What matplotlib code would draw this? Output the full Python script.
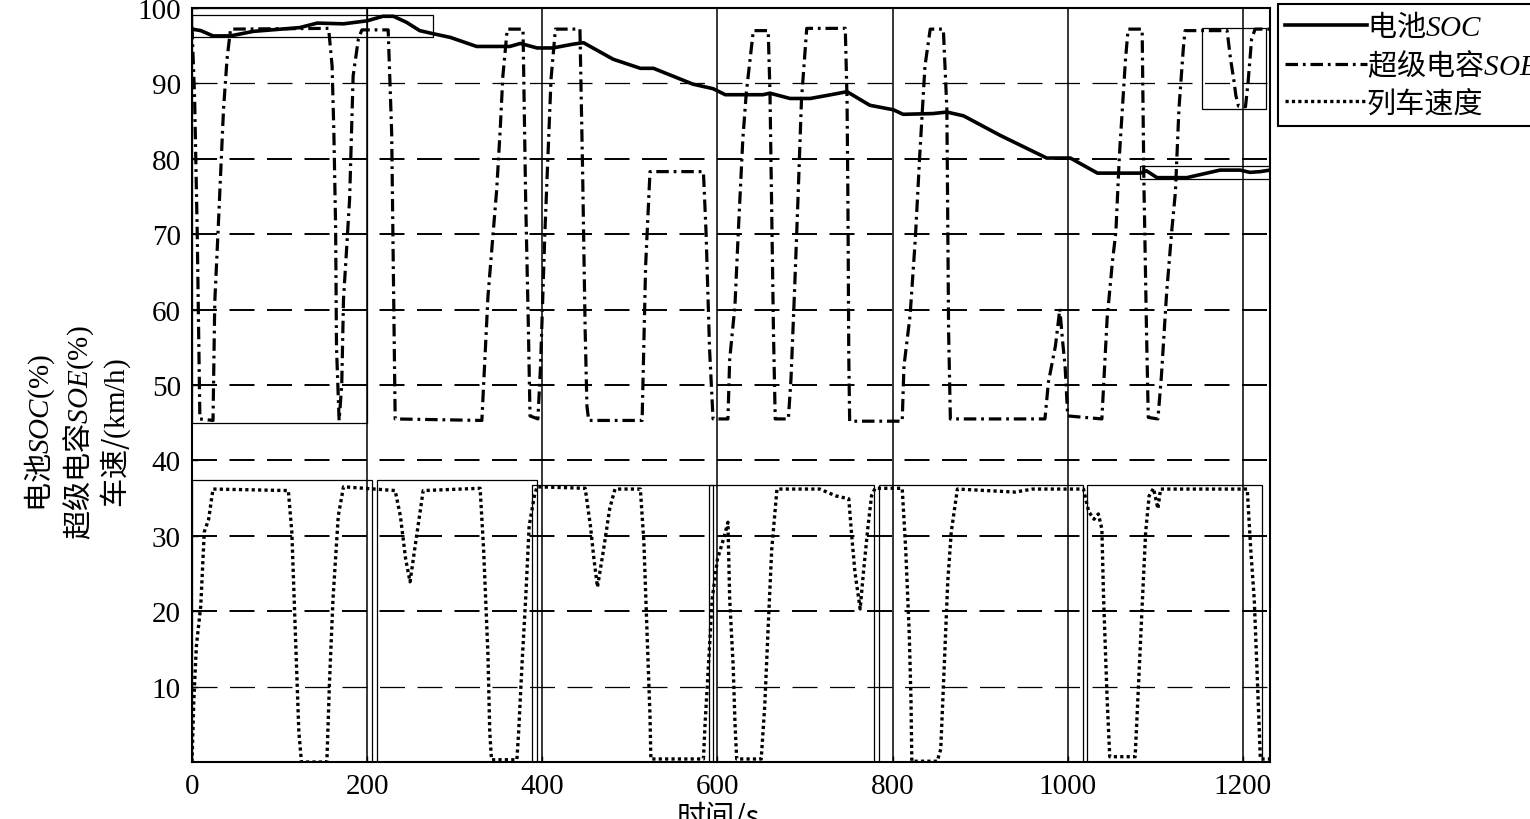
import numpy as np
import matplotlib
matplotlib.use('Agg')
import matplotlib.pyplot as plt
from matplotlib.patches import Rectangle

plt.rcParams['font.family'] = ['Liberation Serif', 'Noto Sans CJK SC', 'DejaVu Sans']
plt.rcParams['mathtext.fontset'] = 'custom'
plt.rcParams['mathtext.rm'] = 'Liberation Serif'
plt.rcParams['mathtext.it'] = 'Liberation Serif:italic'
plt.rcParams['lines.scale_dashes'] = False

CJK = 'Noto Sans CJK SC'

# battery SOC (%)
t_bat = [0, 10, 24, 44, 70, 123, 143, 173, 200, 218, 230, 245, 260, 275, 295,
         325, 363, 375, 394, 412, 435, 447, 481, 512, 527, 572, 595, 609, 652,
         660, 683, 706, 725, 748, 774, 801, 812, 846, 862, 881, 923, 976, 1003,
         1034, 1083, 1090, 1102, 1136, 1174, 1197, 1208, 1220, 1231]
soc_bat = [97.2, 97.0, 96.3, 96.3, 96.9, 97.4, 98.0, 97.9, 98.3, 98.9, 98.9, 98.1,
           97.0, 96.6, 96.1, 94.9, 94.9, 95.3, 94.7, 94.7, 95.2, 95.4, 93.2, 92.0,
           92.0, 89.9, 89.3, 88.5, 88.5, 88.7, 88.0, 88.0, 88.4, 88.9, 87.1, 86.5,
           85.9, 86.0, 86.2, 85.7, 83.1, 80.1, 80.1, 78.1, 78.1, 78.4, 77.5, 77.5,
           78.5, 78.5, 78.2, 78.3, 78.5]

# supercapacitor SOE (%)
t_cap = [0, 3, 6, 9, 24, 26, 30, 36, 40, 44, 156, 160, 162, 164, 165, 168, 171,
         173, 176, 180, 184, 190, 194, 224, 228, 232, 331, 338, 348, 352, 355, 360,
         378, 381, 384, 386, 395, 398, 403, 410, 415, 443, 446, 449, 451, 453, 514,
         518, 523, 584, 587, 591, 595, 612, 614, 620, 624, 629, 633, 641, 658, 660,
         664, 666, 681, 684, 688, 692, 696, 702, 746, 748, 749, 750, 751, 811, 813,
         820, 826, 831, 837, 843, 858, 862, 864, 866, 974, 978, 986, 991, 994, 997,
         1000, 1039, 1041, 1045, 1051, 1055, 1059, 1066, 1069, 1085, 1087, 1090,
         1092, 1103, 1107, 1113, 1119, 1123, 1127, 1132, 1134, 1182, 1186, 1190,
         1192, 1195, 1203, 1206, 1210, 1214, 1231]
soe_cap = [97.5, 88, 70, 45.5, 45.3, 61, 71, 86.6, 93.2, 97.2, 97.3, 92.3, 83.5,
           71, 55, 45.3, 50, 61.4, 67, 74.7, 91, 95.9, 97.1, 97.1, 83.5, 45.5, 45.3,
           61.8, 76, 84, 91, 97.2, 97.2, 74.7, 58.3, 45.9, 45.5, 52.5, 70.3, 90.6,
           97.2, 97.2, 78.6, 57, 47.2, 45.3, 45.3, 65.8, 78.3, 78.3, 70.3, 54.8,
           45.5, 45.5, 53.4, 60.5, 70.7, 82.6, 88.8, 97, 97, 88.8, 57, 45.5, 45.5,
           50.8, 62.3, 74.7, 87.9, 97.3, 97.3, 87.9, 74.7, 53.8, 45.2, 45.2, 52.5,
           59.2, 69.4, 80.4, 92.3, 97.2, 97.2, 86.6, 57, 45.5, 45.5, 50.4, 55.2,
           60.1, 56, 52.5, 45.9, 45.5, 49.9, 58.8, 66.3, 70.3, 80.4, 93.2, 97.2,
           97.2, 76.9, 57, 45.7, 45.5, 51.2, 62.3, 70.7, 75.6, 86.6, 94.6, 97, 97,
           93.2, 90.2, 88.4, 87, 86.9, 90.2, 95.9, 97.2, 97.2]

# train speed (km/h)
t_spd = [0, 2, 5, 10, 14, 19, 24, 110, 114, 118, 122, 125, 154, 157, 161, 167,
         173, 232, 238, 244, 249, 256, 264, 329, 333, 338, 340, 342, 371, 373, 377,
         381, 385, 391, 394, 449, 455, 459, 463, 470, 477, 483, 512, 516, 520, 523,
         524, 584, 586, 590, 594, 600, 607, 612, 614, 618, 620, 622, 650, 654, 658,
         662, 668, 717, 735, 750, 753, 757, 763, 767, 772, 776, 780, 811, 815, 819,
         821, 822, 851, 855, 859, 863, 867, 874, 940, 960, 1018, 1024, 1030, 1035,
         1039, 1041, 1045, 1048, 1077, 1081, 1085, 1089, 1093, 1098, 1103, 1106,
         1205, 1209, 1213, 1216, 1220, 1231]
v_spd = [0, 8, 15.4, 20.7, 30.5, 32.2, 36.2, 36, 30.5, 17.2, 4, 0, 0, 10.6, 21.6,
         32.6, 36.5, 36, 32.6, 26.9, 23.9, 29.6, 36, 36.3, 28.2, 14.1, 4, 0.3, 0.3,
         4, 13.3, 21.6, 31.3, 35.3, 36.5, 36.3, 31.3, 26.9, 23.2, 28.2, 33.6, 36.2,
         36.2, 29.2, 15.9, 6.1, 0.4, 0.4, 5.3, 13.3, 21.6, 26.9, 29.6, 31.8, 21.6,
         12.7, 5.3, 0.4, 0.4, 7.4, 18, 28.2, 36.2, 36.2, 35.3, 34.9, 30.5, 25.2,
         20.3, 25.5, 31.3, 35.3, 36.3, 36.3, 28.2, 17.2, 8.4, 0.1, 0.1, 1.7, 12.7,
         23.9, 30.5, 36.2, 35.8, 36.2, 36.2, 33.2, 32.2, 32.9, 30.9, 21.6, 8.4, 0.7,
         0.7, 10.6, 20.7, 30.5, 35.3, 36.3, 33.6, 36.2, 36.2, 28.2, 21.6, 12.7,
         0.4, 0.4]

x_ticks = [0, 200, 400, 600, 800, 1000, 1200]
y_ticks = [10, 20, 30, 40, 50, 60, 70, 80, 90, 100]

# thin annotation boxes seen on the figure: (x0, y0, x1, y1)
boxes = [(0, 96.1, 275, 99.1), (0, 44.9, 200, 100), (1153, 86.6, 1227, 97.4),
         (1083, 77.3, 1231, 79.0),
         (0, 0, 206, 37.4), (211, 0, 394, 37.4), (388, 0, 595, 36.7),
         (590, 0, 779, 36.7), (785, 0, 1017, 36.7), (1022, 0, 1222, 36.7)]

fig = plt.figure(figsize=(15.3, 8.2), dpi=100)
ax = fig.add_axes([192 / 1530, 1 - 763 / 820, 1078 / 1530, 754 / 820])
ax.set_xlim(0, 1231)
ax.set_ylim(0, 100)

for y in y_ticks[:-1]:
    lw = 0.9 if y in (10, 90) else 1.4
    ax.axhline(y, color='black', lw=lw, ls=(0, (18, 9)), zorder=1)
for x in x_ticks[1:]:
    ax.axvline(x, color='black', lw=1.1, zorder=1)
for x0, y0, x1, y1 in boxes:
    ax.add_patch(Rectangle((x0, y0), x1 - x0, y1 - y0, fill=False,
                           ec='black', lw=0.9, zorder=2))

ax.plot(t_bat, soc_bat, color='black', lw=2.6, zorder=4,
        label=r'电池$\mathit{SOC}$')
ax.plot(t_cap, soe_cap, color='black', lw=2.3, ls=(0, (9, 3.5, 2, 3.5)), zorder=3,
        label=r'超级电容$\mathit{SOE}$')
ax.plot(t_spd, v_spd, color='black', lw=2.4, ls=(0, (2.3, 2.3)), zorder=3,
        label='列车速度')

ax.set_xticks(x_ticks)
ax.set_yticks(y_ticks)
ax.tick_params(direction='in', length=4, width=1, labelsize=21, pad=8)
for s in ax.spines.values():
    s.set_linewidth(1.5)

leg = ax.legend(loc='upper left', bbox_to_anchor=(1278 / 1530, 1 - 5 / 820),
                bbox_transform=fig.transFigure, borderaxespad=0, borderpad=0.25,
                handlelength=2.8, handletextpad=0.0, labelspacing=0.25,
                fancybox=False, framealpha=1, edgecolor='black',
                prop={'family': CJK, 'size': 21})
leg.get_frame().set_linewidth(1.5)

ylab = [r'电池$\mathit{SOC}\mathrm{(\%)}$', r'超级电容$\mathit{SOE}\mathrm{(\%)}$',
        r'车速/$\mathrm{(km/h)}$']
for xp, s in zip([40, 79, 116], ylab):
    fig.text(xp / 1530, 1 - 433 / 820, s, rotation=90, ha='center', va='center',
             family=CJK, fontsize=21)

fig.text(718 / 1530, 1 - 803 / 820, '时间/s', ha='center', va='top',
         family=CJK, fontsize=21)

fig.savefig('out.png', dpi=100)
